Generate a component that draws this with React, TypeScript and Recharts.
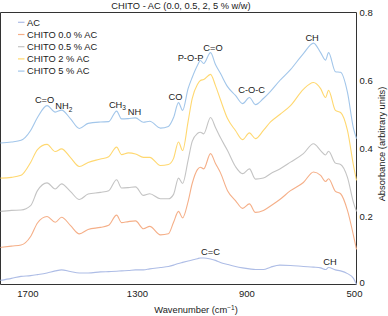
import React from 'react';
import { LineChart, Line, XAxis, YAxis, ReferenceArea, ReferenceDot } from 'recharts';

const wavenumbers = [1800, 1760, 1725, 1690, 1665, 1630, 1600, 1577, 1545, 1512, 1480, 1435, 1405, 1376, 1358, 1333, 1307, 1278, 1255, 1216, 1187, 1168, 1150, 1135, 1115, 1100, 1081, 1070, 1058, 1033, 1015, 997, 971, 942, 916, 891, 869, 840, 814, 780, 741, 694, 657, 631, 613, 602, 577, 558, 533, 511, 500];

const acValues = [0.012, 0.018, 0.024, 0.026, 0.029, 0.034, 0.040, 0.043, 0.038, 0.034, 0.034, 0.037, 0.038, 0.039, 0.040, 0.041, 0.043, 0.043, 0.046, 0.050, 0.053, 0.057, 0.062, 0.065, 0.069, 0.072, 0.076, 0.078, 0.078, 0.075, 0.071, 0.065, 0.059, 0.053, 0.049, 0.046, 0.044, 0.044, 0.051, 0.057, 0.056, 0.053, 0.051, 0.049, 0.044, 0.050, 0.043, 0.040, 0.032, 0.018, 0.000];

const chito00Values = [0.109, 0.113, 0.116, 0.141, 0.181, 0.200, 0.183, 0.198, 0.174, 0.149, 0.162, 0.168, 0.174, 0.204, 0.182, 0.185, 0.187, 0.164, 0.171, 0.146, 0.149, 0.183, 0.215, 0.196, 0.244, 0.297, 0.338, 0.345, 0.340, 0.385, 0.356, 0.329, 0.276, 0.247, 0.224, 0.237, 0.212, 0.218, 0.231, 0.250, 0.276, 0.300, 0.331, 0.321, 0.303, 0.311, 0.274, 0.267, 0.218, 0.144, 0.103];

const chito05Values = [0.215, 0.218, 0.219, 0.232, 0.276, 0.299, 0.281, 0.296, 0.274, 0.250, 0.266, 0.271, 0.276, 0.308, 0.284, 0.285, 0.287, 0.262, 0.267, 0.252, 0.252, 0.265, 0.313, 0.297, 0.365, 0.421, 0.444, 0.448, 0.443, 0.491, 0.462, 0.432, 0.394, 0.347, 0.326, 0.340, 0.310, 0.313, 0.326, 0.340, 0.360, 0.385, 0.414, 0.394, 0.381, 0.392, 0.357, 0.353, 0.315, 0.241, 0.215];

const chito2Values = [0.313, 0.315, 0.321, 0.359, 0.397, 0.412, 0.391, 0.399, 0.374, 0.347, 0.359, 0.369, 0.376, 0.404, 0.382, 0.387, 0.384, 0.374, 0.374, 0.350, 0.353, 0.371, 0.419, 0.394, 0.479, 0.547, 0.588, 0.600, 0.603, 0.618, 0.585, 0.544, 0.488, 0.453, 0.426, 0.446, 0.429, 0.453, 0.478, 0.500, 0.526, 0.574, 0.594, 0.576, 0.550, 0.571, 0.512, 0.506, 0.453, 0.350, 0.306];

const chito5Values = [0.416, 0.419, 0.424, 0.453, 0.491, 0.526, 0.507, 0.513, 0.488, 0.459, 0.474, 0.478, 0.479, 0.510, 0.487, 0.488, 0.490, 0.477, 0.480, 0.460, 0.465, 0.491, 0.535, 0.512, 0.576, 0.609, 0.644, 0.659, 0.650, 0.682, 0.647, 0.621, 0.582, 0.556, 0.532, 0.550, 0.529, 0.547, 0.568, 0.600, 0.632, 0.679, 0.710, 0.682, 0.660, 0.682, 0.626, 0.624, 0.565, 0.459, 0.429];

const seriesNames = ['AC', 'CHITO 0.0 % AC', 'CHITO 0.5 % AC', 'CHITO 2 % AC', 'CHITO 5 % AC'];
const seriesKeys = ['ac', 'c00', 'c05', 'c2', 'c5'];
const seriesColors = ['#AEBDE6', '#F5AF88', '#C4C4C4', '#FFD870', '#A2C6EA'];
const seriesValues = [acValues, chito00Values, chito05Values, chito2Values, chito5Values];

const xTicks = [1700, 1300, 900, 500];
const yTicks = [0, 0.2, 0.4, 0.6, 0.8];

const annotations = [
  { text: 'C=O', w: 1639, a: 0.543 },
  { text: 'NH', sub: '2', w: 1569, a: 0.525 },
  { text: 'CH', sub: '3', w: 1373, a: 0.53 },
  { text: 'NH', w: 1311, a: 0.509 },
  { text: 'CO', w: 1161, a: 0.553 },
  { text: 'P-O-P', w: 1106, a: 0.668 },
  { text: 'C=O', w: 1024, a: 0.696 },
  { text: 'C-O-C', w: 883, a: 0.572 },
  { text: 'CH', w: 662, a: 0.727 },
  { text: 'C=C', w: 1033, a: 0.095 },
  { text: 'CH', w: 597, a: 0.068 },
];

const data = wavenumbers.map((w, i) => {
  const row: Record<string, number> = { w };
  seriesKeys.forEach((k, j) => {
    row[k] = seriesValues[j][i];
  });
  return row;
});

const FONT = '"Liberation Sans", Arial, Helvetica, sans-serif';
const TEXT = '#1a1a1a';

function makeLabel(ann: { text: string; sub?: string; sup?: string }) {
  return (props: any) => {
    const vb = props.viewBox || {};
    const x = (vb.x ?? 0) + (vb.width ?? 0) / 2;
    const y = (vb.y ?? 0) + (vb.height ?? 0) / 2;
    return (
      <text x={x} y={y} dy="0.35em" textAnchor="middle" fontSize={9.3} fill={TEXT} fontFamily={FONT}>
        {ann.text}
        {ann.sub ? <tspan dy={2.5} fontSize={6.5}>{ann.sub}</tspan> : null}
        {ann.sup ? <tspan dy={-2.5} fontSize={6.5}>{ann.sup}</tspan> : null}
      </text>
    );
  };
}

function XTick(props: any) {
  const { x, y, payload } = props;
  const shift = payload.value === 500 ? -2 : 0;
  return (
    <text x={x + shift} y={y} dy="0.71em" textAnchor="middle" fontSize={9.5} fill={TEXT} fontFamily={FONT}>
      {payload.value}
    </text>
  );
}

function YTick(props: any) {
  const { x, y, payload } = props;
  const shift = payload.value === 0 ? -1.8 : 0;
  return (
    <text x={x} y={y + shift} dy="0.355em" textAnchor="start" fontSize={9.5} fill={TEXT} fontFamily={FONT}>
      {String(payload.value)}
    </text>
  );
}

export default function App() {
  return (
    <div style={{ position: 'absolute', left: 0, top: 0, width: 388, height: 316, background: '#fff' }}>
      <LineChart
        width={388}
        height={316}
        data={data}
        margin={{ top: 12.5, left: 0.5, right: 1.5, bottom: 9.5 }}
      >
        <XAxis
          dataKey="w"
          type="number"
          domain={[500, 1800]}
          reversed
          ticks={xTicks}
          axisLine={false}
          tickLine={false}
          tickSize={0}
          tickMargin={6}
          height={22}
          interval={0}
          tick={<XTick />}
        />
        <YAxis
          orientation="right"
          type="number"
          domain={[0, 0.8]}
          ticks={yTicks}
          axisLine={false}
          tickLine={false}
          tickSize={0}
          tickMargin={3}
          width={30}
          interval={0}
          tick={<YTick />}
        />
        <ReferenceArea x1={500} x2={1800} y1={0} y2={0.8} fill="none" stroke="#333" strokeWidth={1} ifOverflow="visible" />
        {seriesKeys.map((k, j) => (
          <Line
            key={k}
            dataKey={k}
            name={seriesNames[j]}
            type="monotone"
            stroke={seriesColors[j]}
            strokeWidth={1.1}
            dot={false}
            activeDot={false}
            isAnimationActive={false}
          />
        ))}
        {annotations.map((ann, i) => (
          <ReferenceDot
            key={i}
            x={ann.w}
            y={ann.a}
            r={0}
            fill="none"
            stroke="none"
            ifOverflow="visible"
            label={makeLabel(ann)}
          />
        ))}
      </LineChart>
      <svg
        width={388}
        height={316}
        style={{ position: 'absolute', left: 0, top: 0, pointerEvents: 'none' }}
        fontFamily={FONT}
      >
        <text x={181} y={8.8} textAnchor="middle" fontSize={9.3} fill={TEXT}>
          CHITO - AC (0.0, 0.5, 2, 5 % w/w)
        </text>
        <text x={196} y={312.5} textAnchor="middle" fontSize={9.3} fill={TEXT}>
          Wavenumber (cm<tspan dy={-3} fontSize={6.5}>−1</tspan><tspan dy={3}>)</tspan>
        </text>
        <text
          x={0}
          y={0}
          transform="translate(382,144) rotate(-90)"
          textAnchor="middle"
          dy="0.35em"
          fontSize={9.3}
          fill={TEXT}
        >
          Absorbance (arbitrary units)
        </text>
        {seriesNames.map((name, i) => (
          <g key={name}>
            <line x1={18} x2={24.5} y1={22.3 + i * 12.2} y2={22.3 + i * 12.2} stroke={seriesColors[i]} strokeWidth={1.2} />
            <text x={27} y={22.3 + i * 12.2} dy="0.35em" fontSize={9.3} fill={TEXT}>
              {name}
            </text>
          </g>
        ))}
      </svg>
    </div>
  );
}
